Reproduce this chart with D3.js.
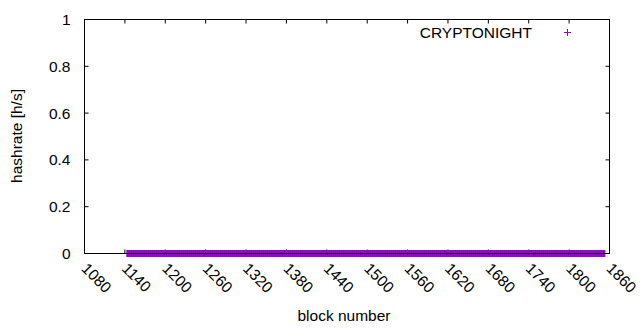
<!DOCTYPE html>
<html lang="en">
<head>
    <meta charset="UTF-8">
    <title>CRYPTONIGHT hashrate</title>
    <script src="https://d3js.org/d3.v7.min.js"></script>
    <style>
        body {
            margin: 0;
            background: white;
        }

        svg text {
            font-family: "Liberation Sans", Arial, sans-serif;
            font-size: 15.5px;
            fill: black;
        }
    </style>
</head>
<body>
    <div id="chart"></div>

    <script>
        // block range of the series (one point per block), hashrate is 0 everywhere
        const firstBlock = 1143;
        const lastBlock = 1853;
        const blocks = d3.range(firstBlock, lastBlock + 1);
        const hashrate = blocks.map(() => 0);

        const xTicks = [1080, 1140, 1200, 1260, 1320, 1380, 1440, 1500, 1560, 1620, 1680, 1740, 1800, 1860];
        const yTicks = [0, 0.2, 0.4, 0.6, 0.8, 1];
        const seriesName = "CRYPTONIGHT";

        const W = 640, H = 330;
        const margin = { top: 19.5, right: 30.5, bottom: 76.5, left: 84.5 };
        const width = W - margin.left - margin.right,
              height = H - margin.top - margin.bottom;
        const purple = "#9400d3";
        const tickLen = 4;

        const svg = d3.select("#chart")
            .append("svg")
            .attr("width", W)
            .attr("height", H);

        const g = svg.append("g")
            .attr("transform", `translate(${margin.left},${margin.top})`);

        const x = d3.scaleLinear().domain([1080, 1860]).range([0, width]);
        const y = d3.scaleLinear().domain([0, 1]).range([height, 0]);

        // ticks, inward on all four sides
        const ticks = g.append("g").attr("stroke", "black").attr("stroke-width", 1);
        xTicks.forEach(t => {
            ticks.append("line").attr("x1", x(t)).attr("x2", x(t)).attr("y1", height).attr("y2", height - tickLen);
            ticks.append("line").attr("x1", x(t)).attr("x2", x(t)).attr("y1", 0).attr("y2", tickLen);
        });
        yTicks.forEach(t => {
            ticks.append("line").attr("x1", 0).attr("x2", tickLen).attr("y1", y(t)).attr("y2", y(t));
            ticks.append("line").attr("x1", width).attr("x2", width - tickLen).attr("y1", y(t)).attr("y2", y(t));
        });

        // y tick labels
        g.selectAll(".ylab")
            .data(yTicks)
            .enter().append("text")
            .attr("x", -14)
            .attr("y", d => y(d))
            .attr("dy", "0.36em")
            .attr("text-anchor", "end")
            .text(d => d3.format("~g")(d));

        // x tick labels, rotated -45 like gnuplot
        g.selectAll(".xlab")
            .data(xTicks)
            .enter().append("text")
            .attr("transform", d => `translate(${x(d)},${height + 12}) rotate(45)`)
            .attr("dy", "0.36em")
            .attr("text-anchor", "start")
            .text(d => d);

        // data points (plus markers)
        const plus = s => `M${-s},0H${s}M0,${-s}V${s}`;
        g.append("g")
            .selectAll("path")
            .data(blocks)
            .enter().append("path")
            .attr("transform", (d, i) => `translate(${x(d)},${y(hashrate[i])})`)
            .attr("d", plus(3.4))
            .attr("stroke", purple)
            .attr("stroke-width", 1.2)
            .attr("fill", "none");

        // border
        g.append("rect")
            .attr("width", width)
            .attr("height", height)
            .attr("fill", "none")
            .attr("stroke", "black")
            .attr("stroke-width", 1);

        // legend
        svg.append("text")
            .attr("x", 532)
            .attr("y", 32)
            .attr("dy", "0.36em")
            .attr("text-anchor", "end")
            .text(seriesName);
        svg.append("path")
            .attr("transform", "translate(567.5,32.5)")
            .attr("d", plus(3.5))
            .attr("stroke", purple)
            .attr("stroke-width", 1);

        // axis titles
        svg.append("text")
            .attr("x", 344)
            .attr("y", 321)
            .attr("text-anchor", "middle")
            .text("block number");

        svg.append("text")
            .attr("transform", "translate(22,136) rotate(-90)")
            .attr("text-anchor", "middle")
            .text("hashrate [h/s]");
    </script>
</body>
</html>
